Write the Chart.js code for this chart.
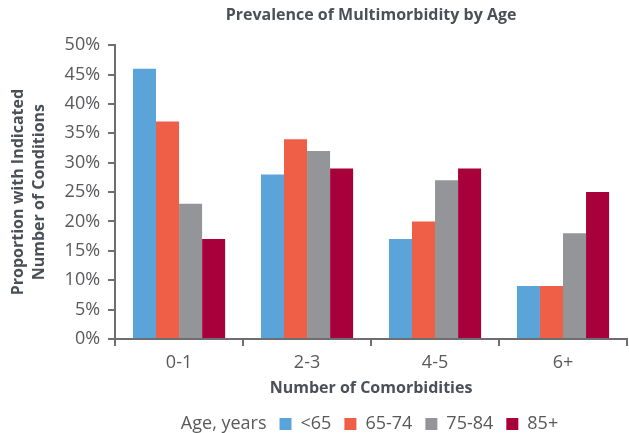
<!DOCTYPE html>
<html>
<head>
<meta charset="utf-8">
<script src="https://cdn.jsdelivr.net/npm/chart.js@4.4.0/dist/chart.umd.min.js"></script>
<style>
  html, body { margin: 0; padding: 0; background: #fff; }
  #wrap { width: 629px; height: 433px; }
</style>
</head>
<body>
<div id="wrap"><canvas id="myChart" width="629" height="433"></canvas></div>
<script>
// Categories and series (percent of patients)
const comorbidities = ['0-1', '2-3', '4-5', '6+'];
const ageGroups = ['<65', '65-74', '75-84', '85+'];
const under65 = [46, 28, 17, 9];
const age65to74 = [37, 34, 20, 9];
const age75to84 = [23, 32, 27, 18];
const age85plus = [17, 29, 29, 25];
const yTicks = [0, 5, 10, 15, 20, 25, 30, 35, 40, 45, 50];

const colors = ['#5ba4d9', '#ef5e46', '#939598', '#a8003a'];
const textColor = '#58595b';
const titleColor = '#4b5058';
const axisColor = '#6d6e71';
const fontFamily = '"Open Sans", "Noto Sans", sans-serif';

const ctx = document.getElementById('myChart');

const seriesValues = [under65, age65to74, age75to84, age85plus];

// the "Age, years" caption has an invisible box in front of it; pull the legend left to make up for it
const legendShift = {
    id: 'legendShift',
    afterLayout(chart) {
        if (chart.legend) {
            chart.legend.left -= 12;
            chart.legend.right -= 12;
        }
    }
};

new Chart(ctx, {
    type: 'bar',
    data: {
        labels: comorbidities,
        datasets: ageGroups.map((name, i) => ({
            label: name,
            data: seriesValues[i],
            backgroundColor: colors[i],
            borderWidth: 0
        }))
    },
    plugins: [legendShift],
    options: {
        responsive: false,
        animation: false,
        layout: { padding: { left: 8, right: 2, top: 4, bottom: -10 } },
        datasets: {
            bar: { barPercentage: 1, categoryPercentage: 0.72 }
        },
        plugins: {
            title: {
                display: true,
                text: 'Prevalence of Multimorbidity by Age',
                fullSize: false,
                color: titleColor,
                font: { family: fontFamily, size: 16, weight: 'bold' },
                padding: { top: 2, bottom: 20 }
            },
            legend: {
                position: 'bottom',
                fullSize: false,
                onClick: null,
                labels: {
                    color: textColor,
                    font: { family: fontFamily, size: 18 },
                    boxWidth: 12,
                    boxHeight: 12,
                    padding: 13,
                    generateLabels: (chart) => {
                        // leading caption item, then one item per age group
                        const items = [{
                            text: 'Age, years',
                            fillStyle: 'rgba(0,0,0,0)',
                            strokeStyle: 'rgba(0,0,0,0)',
                            lineWidth: 0,
                            fontColor: textColor,
                            hidden: false
                        }];
                        chart.data.datasets.forEach((ds, i) => {
                            items.push({
                                text: ds.label,
                                fillStyle: ds.backgroundColor,
                                strokeStyle: ds.backgroundColor,
                                lineWidth: 0,
                                fontColor: textColor,
                                hidden: false,
                                datasetIndex: i
                            });
                        });
                        return items;
                    }
                }
            },
            tooltip: { enabled: false }
        },
        scales: {
            x: {
                grid: {
                    display: true,
                    drawOnChartArea: false,
                    offset: true,
                    color: axisColor,
                    lineWidth: 2,
                    tickLength: 7
                },
                border: { color: axisColor, width: 2 },
                ticks: {
                    color: textColor,
                    font: { family: fontFamily, size: 18, lineHeight: 1 },
                    padding: 8
                },
                title: {
                    display: true,
                    text: 'Number of Comorbidities',
                    color: titleColor,
                    font: { family: fontFamily, size: 16, weight: 'bold', lineHeight: 1 },
                    padding: { top: 0, bottom: 6 }
                }
            },
            y: {
                min: 0,
                max: 50,
                afterBuildTicks: (axis) => {
                    axis.ticks = yTicks.map(v => ({ value: v }));
                },
                grid: {
                    display: true,
                    drawOnChartArea: false,
                    color: axisColor,
                    lineWidth: 2,
                    tickLength: 7
                },
                border: { color: axisColor, width: 2 },
                ticks: {
                    color: textColor,
                    font: { family: fontFamily, size: 18 },
                    padding: 8,
                    callback: (v) => v + '%'
                },
                title: {
                    display: true,
                    text: ['Proportion with Indicated', 'Number of Conditions'],
                    color: titleColor,
                    font: { family: fontFamily, size: 16, weight: 'bold', lineHeight: 1.3 },
                    padding: { top: 0, bottom: 7 }
                }
            }
        }
    }
});
</script>
</body>
</html>
